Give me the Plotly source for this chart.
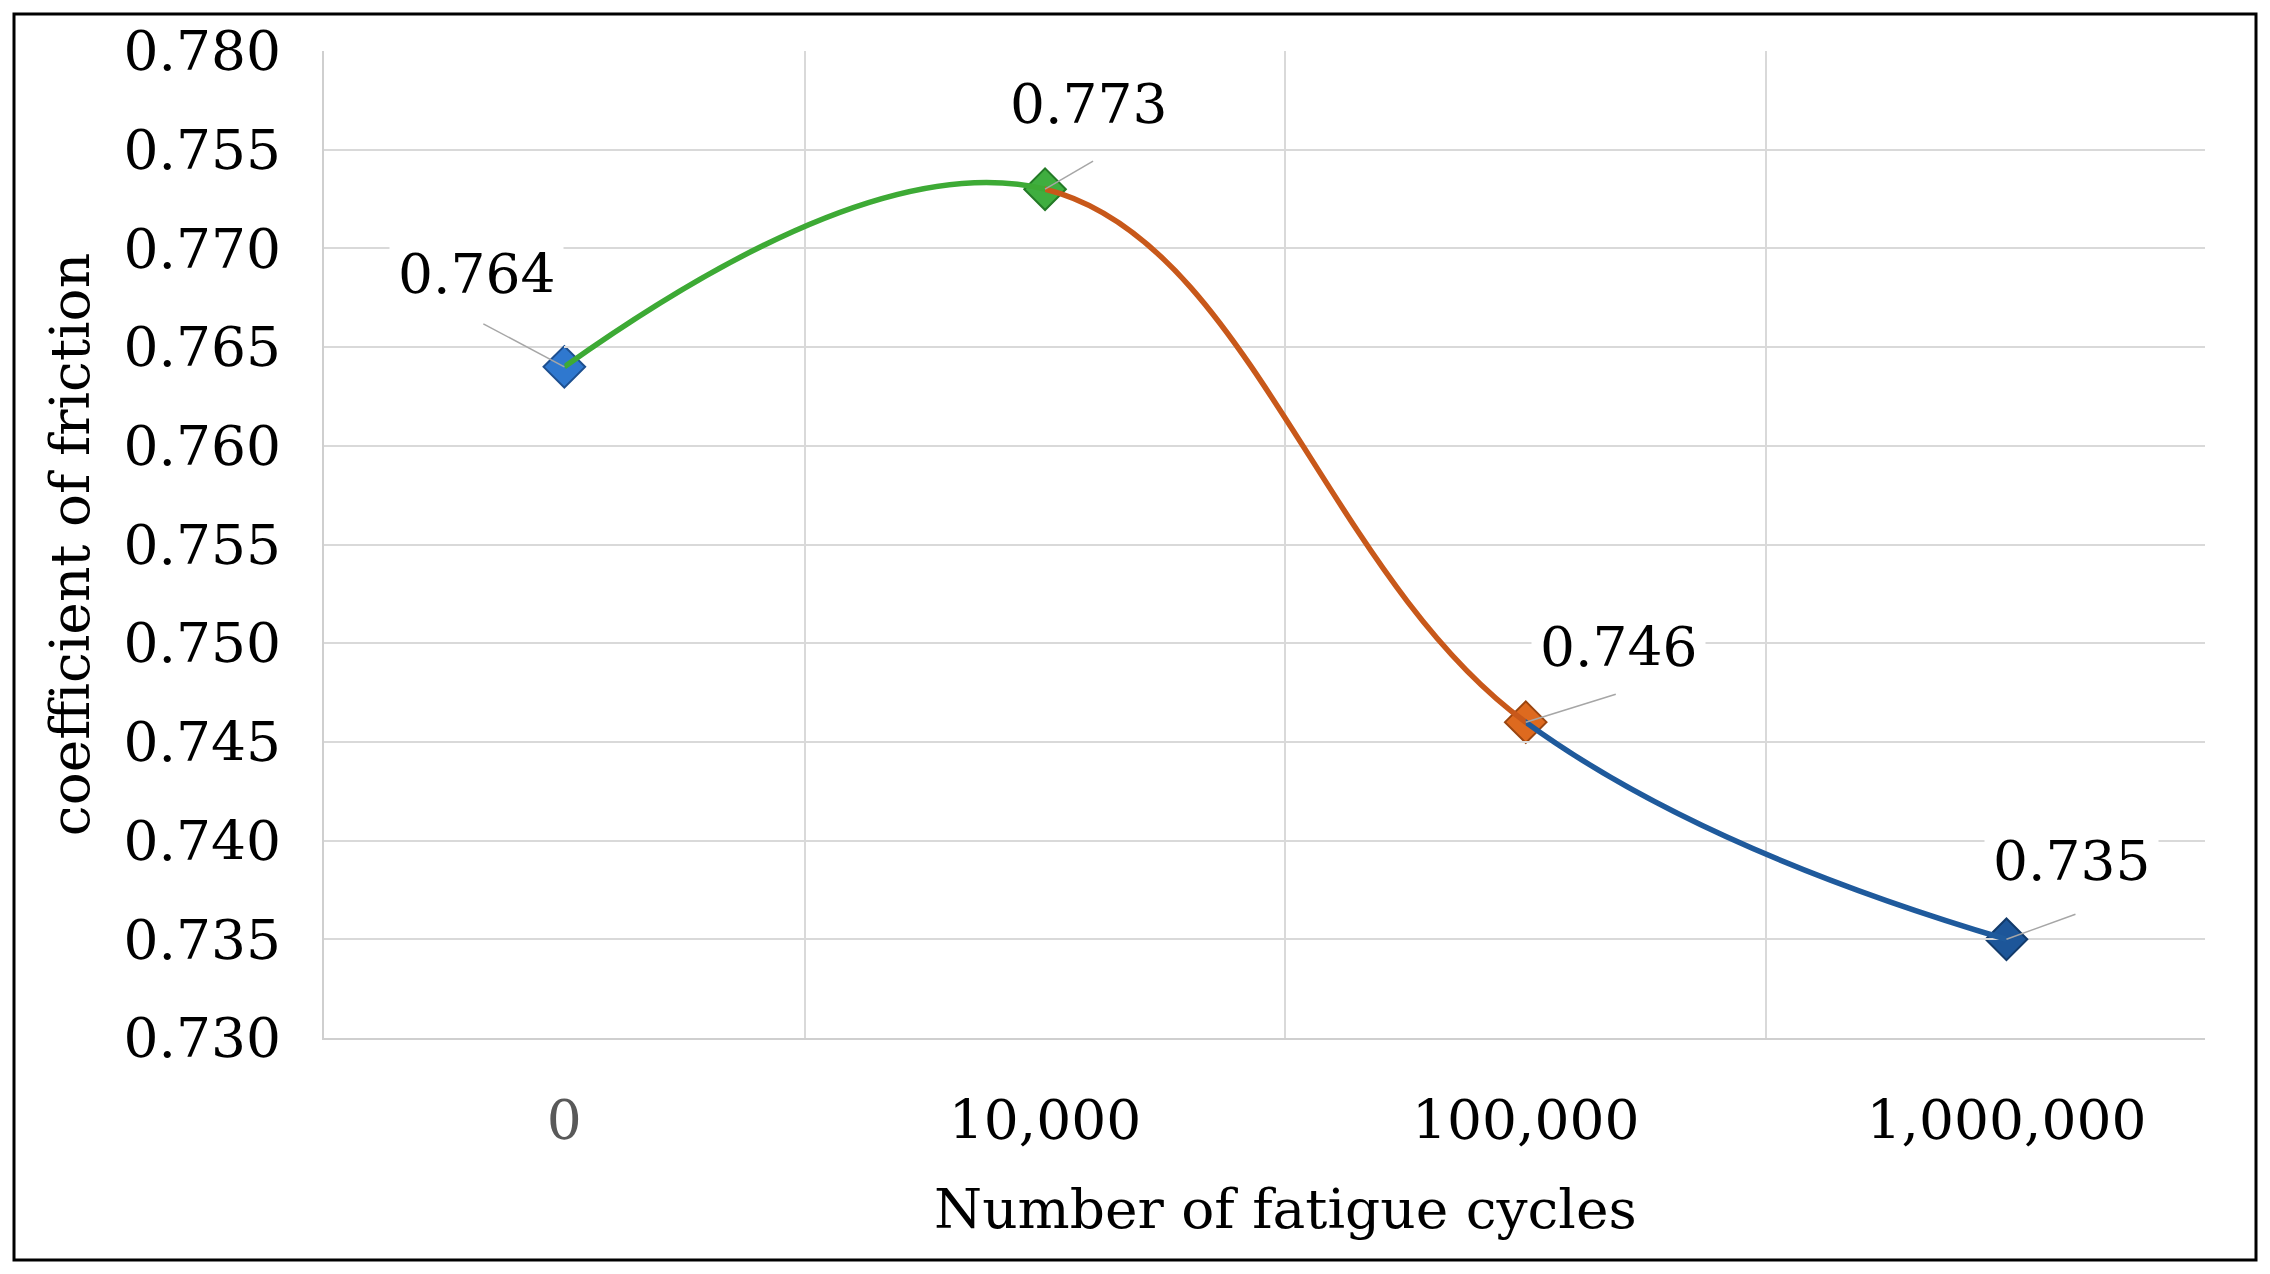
import plotly.graph_objects as go

# ---- data ----
categories = ["0", "10,000", "100,000", "1,000,000"]
cof_values = [0.764, 0.773, 0.746, 0.735]
y_tickvals = [0.730, 0.735, 0.740, 0.745, 0.750, 0.755, 0.760, 0.765, 0.770, 0.775, 0.780]
y_ticktext = ["0.730", "0.735", "0.740", "0.745", "0.750", "0.755", "0.760",
              "0.765", "0.770", "0.755", "0.780"]
x_title = "Number of fatigue cycles"
y_title = "coefficient of friction"

# ---- styles ----
FONT = "DejaVu Serif"
FS = 55
segment_colors = ["#3daa35", "#c8581a", "#1f5a9c"]
marker_colors = ["#2f78cf", "#3fae3f", "#de6a1f", "#1d5699"]
marker_edges = ["#1d4f8f", "#237a26", "#9a4510", "#123a6a"]
label_shifts = [(-88, 93), (43, 85), (93, 75), (65, 78)]
leader_ends = [(-81, 43), (48, 28), (90, 28), (69, 25)]
GRID = "#d9d9d9"

W, H = 2254, 1258
ML, MR, MT, MB = 316, 57, 43, 228
XR = [-0.5, 3.413]
span = XR[1] - XR[0]

x_idx = list(range(len(categories)))

fig = go.Figure()

# smooth coloured segments: the full spline drawn on per-segment clipped axes
layout_axes = {}
for i, col in enumerate(segment_colors):
    ax_name = f"x{i + 2}"
    fig.add_trace(go.Scatter(
        x=x_idx, y=cof_values, mode="lines", xaxis=ax_name, yaxis="y",
        line=dict(color=col, width=5.5, shape="spline", smoothing=1.15),
        hoverinfo="skip", showlegend=False))
    layout_axes[f"xaxis{i + 2}"] = dict(
        domain=[(x_idx[i] - XR[0]) / span, (x_idx[i + 1] - XR[0]) / span],
        range=[x_idx[i], x_idx[i + 1]], anchor="y", visible=False,
        showgrid=False, zeroline=False)

# leader lines (pixel-sized, anchored at each data point)
for xi, v, (lx, ly) in zip(x_idx, cof_values, leader_ends):
    fig.add_shape(type="line", xref="x", yref="y",
                  xsizemode="pixel", ysizemode="pixel", xanchor=xi, yanchor=v,
                  x0=0, y0=0, x1=lx, y1=ly,
                  line=dict(color="#a6a6a6", width=1.5), layer="above")

# markers
fig.add_trace(go.Scatter(
    x=x_idx, y=cof_values, mode="markers",
    marker=dict(symbol="diamond", size=32, color=marker_colors,
                line=dict(color=marker_edges, width=2)),
    hoverinfo="skip", showlegend=False))

# data labels
for xi, v, (sx, sy) in zip(x_idx, cof_values, label_shifts):
    fig.add_annotation(
        x=xi, y=v, xref="x", yref="y", text=f"{v:.3f}",
        showarrow=False, xshift=sx, yshift=sy, xanchor="center", yanchor="middle",
        bgcolor="white", borderpad=8,
        font=dict(family=FONT, size=FS, color="black"))

# x axis title
fig.add_annotation(
    x=0.511, y=1.0, xref="paper", yref="paper", yanchor="middle",
    yshift=-(1201 - 43), text=x_title, showarrow=False,
    font=dict(family=FONT, size=FS, color="black"))

x_ticktext = [f"<span style='color:#595959'>{categories[0]}</span>"] + categories[1:]

fig.update_layout(
    width=W, height=H,
    margin=dict(l=ML, r=MR, t=MT, b=MB),
    paper_bgcolor="white", plot_bgcolor="rgba(0,0,0,0)",
    font=dict(family=FONT, size=FS, color="black"),
    showlegend=False,
    xaxis=dict(
        range=XR, tickmode="array", tickvals=x_idx, ticktext=x_ticktext,
        showgrid=False, zeroline=False, ticks="", ticklabelstandoff=33,
        showline=True, linecolor="#cfcfcf", linewidth=2,
        minor=dict(tickmode="array", tickvals=[0.5, 1.5, 2.5], showgrid=True,
                   gridcolor=GRID, gridwidth=2, ticks=""),
        tickfont=dict(family=FONT, size=FS, color="black"),
    ),
    yaxis=dict(
        range=[0.730, 0.780], tickmode="array", tickvals=y_tickvals, ticktext=y_ticktext,
        showgrid=True, gridcolor=GRID, gridwidth=2, zeroline=False, ticks="",
        ticklabelstandoff=30, showline=True, linecolor="#cfcfcf", linewidth=2,
        title=dict(text=y_title, standoff=16, font=dict(family=FONT, size=FS)),
        tickfont=dict(family=FONT, size=FS, color="black"),
    ),
    **layout_axes,
)

# outer black frame
pw, ph = W - ML - MR, H - MT - MB
fig.add_shape(type="rect", xref="paper", yref="paper",
              x0=(6 - ML) / pw, x1=(W - 6 - ML) / pw,
              y0=-(H - 6 - MT - ph) / ph, y1=(ph + MT - 6) / ph,
              line=dict(color="black", width=3), layer="above")

fig.write_html("out.html")
